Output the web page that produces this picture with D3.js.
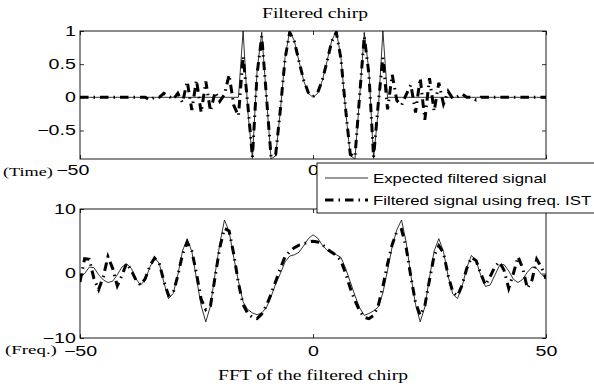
<!DOCTYPE html>
<html>
<head>
<meta charset="utf-8">
<script src="https://cdn.jsdelivr.net/npm/d3@7"></script>
<style>
  body { margin: 0; background: #fff; }
  svg { display: block; }
</style>
</head>
<body>
<svg id="fig" width="594" height="390"></svg>
<script>
// Sample positions: one sample per integer step from -50 to 50
const xs = d3.range(-50, 51);

// Filtered chirp in time: expected result and result from the frequency IST
const timeExpected = [
  0,0,0,0,0,0,0,0,0,0, 0,0,0,0,0,0,0,0,0,0, 0,0,0,0,0,0,0,0,0,0, 0,0,0,0,0,
  1.0,-0.2,-0.92,0.4,0.98,0.0,-0.93,-0.88,-0.2,0.6,1.0,0.85,0.54,0.25,0.06,
  0.0,
  0.06,0.25,0.54,0.85,1.0,0.6,-0.2,-0.88,-0.93,0.0,0.98,0.4,-0.92,-0.2,1.0,
  0,0,0,0,0,0,0,0,0,0, 0,0,0,0,0,0,0,0,0,0, 0,0,0,0,0,0,0,0,0,0, 0,0,0,0,0
];
const timeIST = [
  0,0,0,0,0,0,0,0,0,0, 0,0,0,0,0,
  -0.04,0.0,0.0,0.06,0.02,-0.03,0.06,-0.08,0.24,-0.19,0.26,-0.23,0.24,-0.21,0.08,-0.06,0.04,0.34,-0.12,-0.28,
  0.62,-0.1,-0.9,0.35,0.92,0.02,-0.9,-0.86,-0.18,0.58,0.98,0.84,0.54,0.26,0.07,
  0.01,
  0.07,0.26,0.54,0.84,0.98,0.58,-0.18,-0.86,-0.9,0.02,0.92,0.35,-0.9,-0.1,0.6,
  -0.18,0.34,-0.05,-0.12,0.04,0.19,-0.23,0.29,-0.34,0.29,-0.21,0.22,-0.1,0.09,-0.02,0.01,0.05,0.0,0.0,-0.04,
  0,0,0,0,0,0,0,0,0,0, 0,0,0,0,0
];

// FFT of the filtered chirp: expected result and result from the frequency IST
const freqExpected = [
  -0.6,0.0,1.0,0.9,-0.2,-1.0,-1.4,-1.2,-0.2,1.0,
  1.5,0.8,-0.8,-1.8,-1.0,1.0,2.4,1.6,-1.4,-3.9,
  -3.1,-0.2,3.5,5.4,3.4,-0.8,-5.0,-7.5,-5.0,0.0,
  4.6,8.3,6.5,2.5,-1.2,-4.4,-5.6,-6.1,-6.4,-6.1,
  -5.3,-3.6,-1.6,0.0,1.8,2.7,2.9,3.3,4.3,5.4,
  6.0,
  5.5,4.4,3.6,3.2,2.9,2.5,0.8,-1.3,-3.4,-5.3,
  -6.5,-6.2,-5.8,-5.2,-3.0,0.5,4.2,6.8,8.3,4.8,
  -0.3,-4.8,-7.5,-5.2,-0.6,3.5,5.4,3.4,-0.4,-3.2,
  -3.9,-2.0,0.9,2.8,2.0,-0.3,-2.0,-1.8,-0.3,1.2,
  1.4,0.4,-0.9,-1.4,-0.9,0.2,1.0,0.8,-0.1,-0.7
];
const freqIST = [
  -1.3,2.3,2.2,-0.8,-2.5,-0.5,2.6,0.8,-1.9,-0.3,
  1.6,0.5,-1.0,-1.8,-0.8,1.2,2.4,1.6,-1.2,-3.4,
  -3.0,-0.3,3.0,4.8,3.5,0.0,-4.0,-5.6,-5.0,-0.5,
  4.0,7.0,6.6,3.0,-1.5,-4.8,-6.2,-6.8,-7.0,-6.3,
  -5.0,-3.2,-1.2,0.8,2.6,3.4,4.0,4.4,4.6,4.9,
  5.0,
  4.9,4.5,3.8,3.3,2.8,2.0,0.0,-2.3,-4.2,-5.8,
  -6.8,-7.0,-6.5,-5.0,-2.0,1.5,4.5,6.5,6.8,4.0,
  -0.5,-4.5,-6.5,-5.0,-1.0,2.8,4.3,3.2,-0.3,-2.9,
  -3.5,-1.8,0.8,2.5,2.0,0.0,-1.8,-0.5,1.0,1.8,
  0.5,-2.3,0.0,2.6,0.8,-2.3,-1.0,2.2,1.0,-0.8
];

const xTicks = [-50, 0, 50];
const timeYTicks = [-0.5, 0, 0.5, 1];
const freqYTicks = [-10, 0, 10];
const timeYDomain = [-0.93, 1];
const freqYDomain = [-10, 10];
const seriesNames = ["Expected filtered signal", "Filtered signal using freq. IST"];

// Printed figure is wider than tall; text is stretched horizontally to suit
const SX = 1.4;
const SANS = "'Liberation Sans', Arial, Helvetica, sans-serif";
const SERIF = "'Liberation Serif', 'DejaVu Serif', serif";
const IST_DASH = "8.5,5,1.5,5";
const TICK_FONT = 14;

const svg = d3.select("#fig");
const W = 594, H = 390;
svg.append("rect").attr("width", W).attr("height", H).attr("fill", "#fff");

const plotLeft = 80, plotRight = 546;
const x = d3.scaleLinear().domain([-50, 50]).range([plotLeft, plotRight]);

function stretchedText(g, px, py, str, opts) {
  return g.append("text")
    .attr("transform", `translate(${px},${py}) scale(${SX},1)`)
    .attr("font-family", opts.family || SANS)
    .attr("font-size", opts.size || 13)
    .attr("text-anchor", opts.anchor || "start")
    .attr("fill", "#000")
    .text(str);
}

function drawPanel(opts) {
  const { top, bottom, yDomain, yTicks, yFormat, expected, ist, id, xPad } = opts;
  const y = d3.scaleLinear().domain(yDomain).range([bottom, top]);
  const g = svg.append("g");

  g.append("clipPath").attr("id", id)
    .append("rect")
    .attr("x", plotLeft).attr("y", top)
    .attr("width", plotRight - plotLeft).attr("height", bottom - top);

  const line = d3.line().x((d, i) => x(xs[i])).y(d => y(d));
  const curves = g.append("g").attr("clip-path", `url(#${id})`);
  curves.append("path")
    .attr("d", line(expected))
    .attr("fill", "none").attr("stroke", "#000")
    .attr("stroke-width", 0.8);
  curves.append("path")
    .attr("d", line(ist))
    .attr("fill", "none").attr("stroke", "#000")
    .attr("stroke-width", 3)
    .attr("stroke-dasharray", IST_DASH);

  const styleAxis = (sel, showText) => {
    sel.select(".domain").remove();
    sel.selectAll(".tick line").attr("stroke", "#000").attr("stroke-width", 0.8);
    sel.selectAll(".tick text")
      .attr("font-family", SANS).attr("font-size", TICK_FONT).attr("fill", "#000")
      .attr("transform", `scale(${SX},1)`);
    if (!showText) sel.selectAll(".tick text").remove();
  };

  g.append("g").attr("transform", `translate(${plotLeft},0)`)
    .call(d3.axisLeft(y).tickValues(yTicks).tickSize(-4).tickPadding(3).tickFormat(yFormat))
    .call(s => styleAxis(s, true));
  g.append("g").attr("transform", `translate(${plotRight},0)`)
    .call(d3.axisRight(y).tickValues(yTicks).tickSize(-4))
    .call(s => styleAxis(s, false));
  const xAxis = g.append("g").attr("transform", `translate(0,${bottom})`)
    .call(d3.axisBottom(x).tickValues(xTicks).tickSize(-4).tickPadding(xPad).tickFormat(d3.format("d")))
    .call(s => styleAxis(s, true));
  g.append("g").attr("transform", `translate(0,${top})`)
    .call(d3.axisTop(x).tickValues(xTicks).tickSize(-4))
    .call(s => styleAxis(s, false));

  g.append("rect")
    .attr("x", plotLeft).attr("y", top)
    .attr("width", plotRight - plotLeft).attr("height", bottom - top)
    .attr("fill", "none").attr("stroke", "#000").attr("stroke-width", 0.9);
  return { g, xAxis };
}

// Upper panel: time signal
const timePanel = drawPanel({
  top: 31, bottom: 159, yDomain: timeYDomain, yTicks: timeYTicks,
  yFormat: d3.format("~g"), expected: timeExpected, ist: timeIST, id: "clip-time", xPad: 6
});
// The first time tick label sits right after the "(Time)" caption
timePanel.xAxis.selectAll(".tick text").filter(d => d === -50).attr("x", -5.5);

// Lower panel: spectrum
drawPanel({
  top: 209, bottom: 338, yDomain: freqYDomain, yTicks: freqYTicks,
  yFormat: d3.format("d"), expected: freqExpected, ist: freqIST, id: "clip-freq", xPad: 8
});

// Titles and the side captions of the horizontal axes
stretchedText(svg, 315, 18, "Filtered chirp", { family: SERIF, size: 14, anchor: "middle" });
stretchedText(svg, 313, 380, "FFT of the filtered chirp", { family: SERIF, size: 14, anchor: "middle" });
stretchedText(svg, 3, 176, "(Time)", { family: SERIF, size: 13 });
stretchedText(svg, 5, 354, "(Freq.)", { family: SERIF, size: 13.5 });

// Legend
const lg = svg.append("g");
lg.append("rect")
  .attr("x", 317).attr("y", 163).attr("width", 290).attr("height", 50)
  .attr("fill", "#fff").attr("stroke", "#000").attr("stroke-width", 0.9);
const rows = [178, 200];
seriesNames.forEach((name, i) => {
  lg.append("line")
    .attr("x1", 325).attr("x2", 368).attr("y1", rows[i]).attr("y2", rows[i])
    .attr("stroke", "#000")
    .attr("stroke-width", i === 0 ? 0.8 : 3)
    .attr("stroke-dasharray", i === 0 ? null : IST_DASH);
  stretchedText(lg, 373, rows[i] + 4.5, name, { size: 12 });
});
</script>
</body>
</html>
